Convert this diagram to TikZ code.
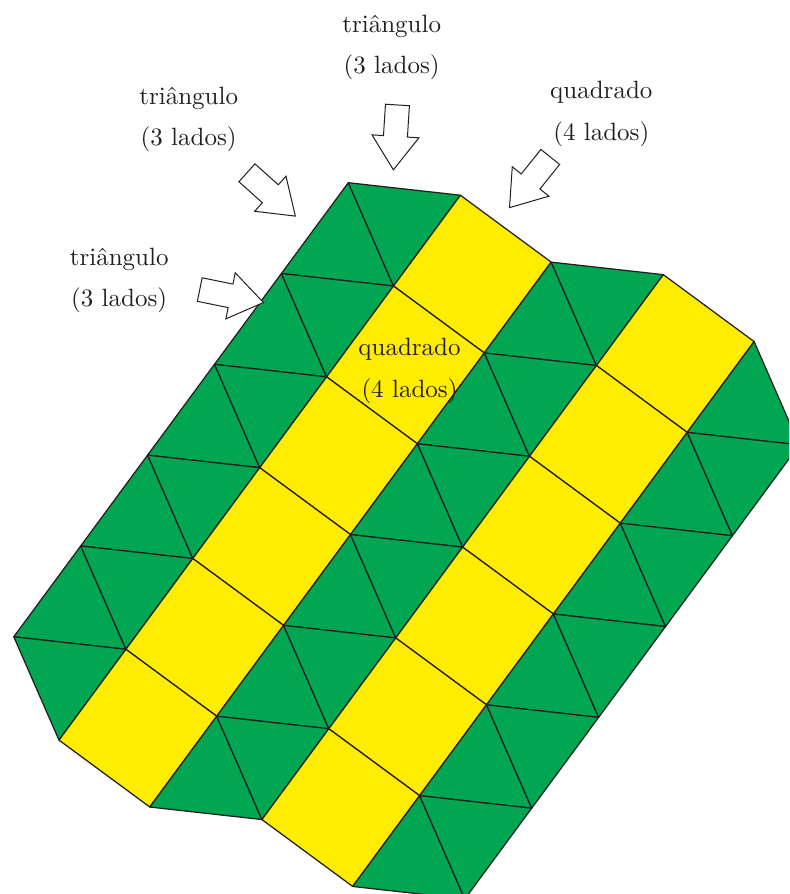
\documentclass[tikz,border=0pt]{standalone}
\usepackage{fontspec}
\usepackage{xcolor}
\usepackage{tikz}
\usetikzlibrary{shapes.arrows}
\definecolor{tileGreen}{RGB}{0,166,81}
\definecolor{tileYellow}{RGB}{255,237,0}
\definecolor{tileInk}{RGB}{35,31,32}
\tikzset{
  tri/.style={fill=tileGreen,draw=tileInk,line width=0.5pt,line join=round},
  sq/.style={fill=tileYellow,draw=tileInk,line width=0.5pt,line join=round},
  lbl/.style={align=center,font=\normalsize,text=tileInk,inner sep=0pt},
  blockarr/.style={single arrow,draw=tileInk,fill=white,line width=0.4pt,
    inner xsep=0pt,inner ysep=4.6pt,minimum height=26pt,
    single arrow head extend=4.6pt,single arrow tip angle=70,anchor=tip},
}
\begin{document}
\begin{tikzpicture}[x=0.4pt,y=0.4pt]
  \useasboundingbox (0,0) rectangle (789,-894);
  \pgfmathsetmacro{\trih}{sqrt(3)/2}
  \begin{scope}
  \clip (0,0) rectangle (789,-894);
  \begin{scope}[shift={(348.3,-182.7)},rotate=-36.38,x=45.12pt,y=45.12pt]
    % first strip of triangles
    \foreach \k in {0,...,4}
      \draw[tri] (0,-\k) -- (0,-\k-1) -- (\trih,-\k-0.5) -- cycle;
    \foreach \k in {0,...,5}
      \draw[tri] (\trih,0.5-\k) -- (\trih,-0.5-\k) -- (0,-\k) -- cycle;
    % first strip of squares
    \foreach \k in {0,...,5}
      \draw[sq] (\trih,0.5-\k) -- (\trih+1,0.5-\k) -- (\trih+1,-0.5-\k)
        -- (\trih,-0.5-\k) -- cycle;
    % middle strip of triangles
    \foreach \k in {0,...,5}
      \draw[tri] (\trih+1,0.5-\k) -- (\trih+1,-0.5-\k) -- (2*\trih+1,-\k) -- cycle;
    \foreach \k in {0,...,5}
      \draw[tri] (2*\trih+1,1-\k) -- (2*\trih+1,-\k) -- (\trih+1,0.5-\k) -- cycle;
    % second strip of squares
    \foreach \k in {0,...,5}
      \draw[sq] (2*\trih+1,1-\k) -- (2*\trih+2,1-\k) -- (2*\trih+2,-\k)
        -- (2*\trih+1,-\k) -- cycle;
    % last strip of triangles
    \foreach \k in {0,...,5}
      \draw[tri] (2*\trih+2,1-\k) -- (2*\trih+2,-\k) -- (3*\trih+2,0.5-\k) -- cycle;
    \foreach \k in {0,...,4}
      \draw[tri] (3*\trih+2,0.5-\k) -- (3*\trih+2,-0.5-\k) -- (2*\trih+2,-\k) -- cycle;
  \end{scope}
  \end{scope}

  % labels
  \node[lbl] (triTop) at (391.7,-47.5) {triângulo\\[4.6pt](3 lados)};
  \node[lbl] (quadTop) at (601.3,-114) {quadrado\\[4.6pt](4 lados)};
  \node[lbl] (triUp) at (188.7,-119.5) {triângulo\\[4.6pt](3 lados)};
  \node[lbl] (triLeft) at (119.2,-280.5) {triângulo\\[4.6pt](3 lados)};
  \node[lbl] (quadIn) at (409.5,-371) {quadrado\\[4.6pt](4 lados)};

  % pointers
  \node[blockarr,rotate=-93.6] (arrTop) at (393.3,-170.7) {};
  \node[blockarr,rotate=231.2] (arrQuad) at (509,-208.3) {};
  \node[blockarr,rotate=-41.8] (arrUp) at (296,-216.7) {};
  \node[blockarr,rotate=-11.5] (arrLeft) at (264.3,-302.7) {};
\end{tikzpicture}
\end{document}
